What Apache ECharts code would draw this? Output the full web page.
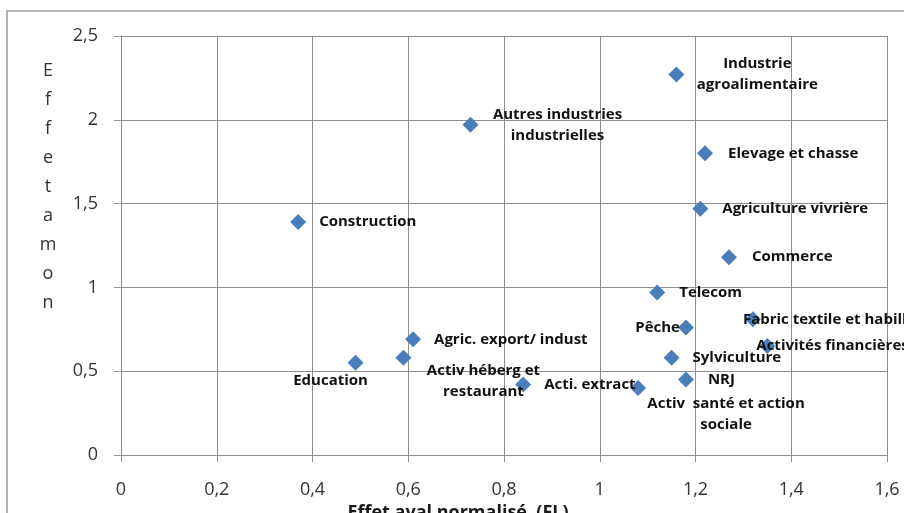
<!DOCTYPE html>
<html>
<head>
<meta charset="utf-8">
<style>
  html, body { margin: 0; padding: 0; background: #ffffff; overflow: hidden; }
  #chart { width: 904px; height: 513px; }
</style>
<script src="https://cdn.jsdelivr.net/npm/echarts@6/dist/echarts.min.js"></script>
</head>
<body>
<div id="chart"></div>
<script>
// Sectors with their normalised downstream (FL) and upstream effects
const sectors = [
  'Construction',
  'Autres industries\nindustrielles',
  'Industrie\nagroalimentaire',
  'Elevage et chasse',
  'Agriculture vivrière',
  'Commerce',
  'Telecom',
  'Pêche',
  'Fabric textile et habillement',
  'Activités financières',
  'Sylviculture',
  'NRJ',
  'Activ  santé et action\nsociale',
  'Acti. extract',
  'Agric. export/ indust',
  'Activ héberg et\nrestaurant',
  'Education'
];
const effetAval = [0.37, 0.73, 1.16, 1.22, 1.21, 1.27, 1.12, 1.18, 1.32, 1.35, 1.15, 1.18, 1.08, 0.84, 0.61, 0.59, 0.49];
const effetAmont = [1.39, 1.97, 2.27, 1.80, 1.47, 1.18, 0.97, 0.76, 0.81, 0.65, 0.58, 0.45, 0.40, 0.42, 0.69, 0.58, 0.55];

const xTicks = { min: 0, max: 1.6, step: 0.2 };
const yTicks = { min: 0, max: 2.5, step: 0.5 };

// Where each data label sits relative to its diamond: [dx, dy, align]
const labelPlacement = {
  'Construction': [21, 0, 'left'],
  'Autres industries\nindustrielles': [87, 0, 'center'],
  'Industrie\nagroalimentaire': [81, 0, 'center'],
  'Elevage et chasse': [23, 0, 'left'],
  'Agriculture vivrière': [22, 0, 'left'],
  'Commerce': [23, 0, 'left'],
  'Telecom': [22, 0, 'left'],
  'Pêche': [-6, 0, 'right'],
  'Fabric textile et habillement': [-10, 0, 'left'],
  'Activités financières': [-11, 0, 'left'],
  'Sylviculture': [21, 0, 'left'],
  'NRJ': [22, 0, 'left'],
  'Activ  santé et action\nsociale': [88, 26, 'center'],
  'Acti. extract': [21, 0, 'left'],
  'Agric. export/ indust': [21, 0, 'left'],
  'Activ héberg et\nrestaurant': [80, 23, 'center'],
  'Education': [-25, 18, 'center']
};

const fmt = v => String(Math.round(v * 10) / 10).replace('.', ',');

const points = sectors.map((name, i) => ({ name: name, value: [effetAval[i], effetAmont[i]] }));

const chart = echarts.init(document.getElementById('chart'), null, { renderer: 'canvas', width: 904, height: 513 });
const gridColor = '#8f8f8f';
const FONT = '"Open Sans", "DejaVu Sans", sans-serif';

chart.setOption({
  backgroundColor: '#ffffff',
  animation: false,
  grid: { left: 121, top: 36, right: 17, bottom: 58, containLabel: false, outerBoundsMode: 'none' },
  xAxis: {
    type: 'value',
    min: xTicks.min, max: xTicks.max, interval: xTicks.step,
    name: 'Effet aval normalisé  (FL)',
    nameLocation: 'middle',
    nameGap: 41,
    nameTextStyle: { fontFamily: FONT, fontSize: 18, fontWeight: 'bold', color: '#1a1a1a', padding: [0, 92, 0, 0] },
    axisLine: { show: true, lineStyle: { color: gridColor, width: 1 } },
    axisTick: { show: true, length: 7, lineStyle: { color: gridColor } },
    axisLabel: { fontFamily: FONT, fontSize: 18, color: '#333', margin: 26, formatter: fmt },
    splitLine: { show: true, lineStyle: { color: gridColor, width: 1 } }
  },
  yAxis: {
    type: 'value',
    min: yTicks.min, max: yTicks.max, interval: yTicks.step,
    axisLine: { show: true, lineStyle: { color: gridColor, width: 1 } },
    axisTick: { show: true, length: 7, lineStyle: { color: gridColor } },
    axisLabel: { fontFamily: FONT, fontSize: 18, color: '#333', margin: 23, formatter: fmt },
    splitLine: { show: true, lineStyle: { color: gridColor, width: 1 } }
  },
  graphic: [
    {
      type: 'rect',
      shape: { x: 7, y: 11, width: 1200, height: 900 },
      style: { fill: 'none', stroke: '#9a9a9a', lineWidth: 1.5 },
      silent: true, z: -1
    },
    {
      type: 'text',
      x: 48, y: 56,
      style: {
        text: 'Effetamon'.split('').join('\n'),
        fontFamily: FONT, fontSize: 18, lineHeight: 29,
        fill: '#333', align: 'center', verticalAlign: 'top'
      }
    }
  ],
  series: [{
    type: 'scatter',
    symbol: 'diamond',
    symbolSize: 16,
    itemStyle: { color: '#4a7ebb', opacity: 1 },
    data: points,
    label: {
      show: true,
      position: 'inside',
      formatter: p => p.name,
      fontFamily: FONT,
      fontSize: 15,
      fontWeight: 'bold',
      lineHeight: 21,
      color: '#111'
    },
    labelLayout: function (params) {
      const p = labelPlacement[sectors[params.dataIndex]];
      const r = params.rect;
      return {
        x: r.x + r.width / 2 + p[0],
        y: r.y + r.height / 2 + p[1],
        align: p[2],
        verticalAlign: 'middle',
        hideOverlap: false
      };
    }
  }]
});
</script>
</body>
</html>
